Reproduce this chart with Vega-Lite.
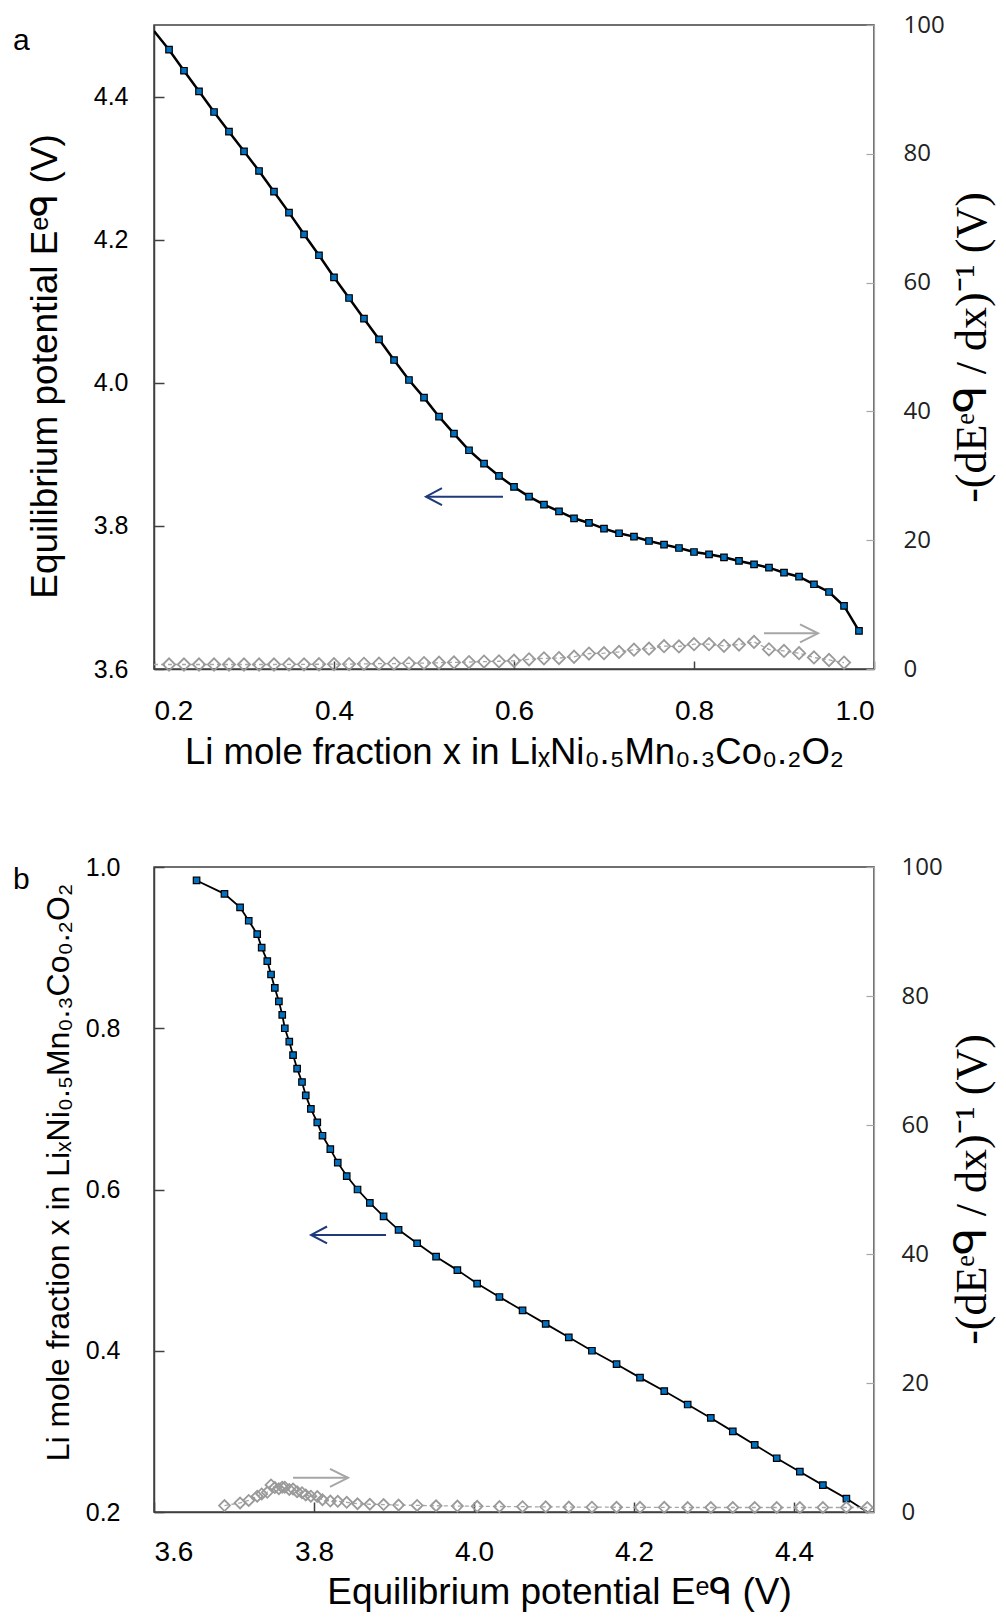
{
  "$schema": "https://vega.github.io/schema/vega-lite/v6.json",
  "padding": {"left": 12, "top": 12, "right": 4, "bottom": 4},
  "background": "white",
  "config": {
    "font": "Liberation Sans",
    "view": {"stroke": "#404040", "strokeWidth": 1.5},
    "axis": {"grid": false, "labelFont": "Liberation Sans", "labelColor": "#000000", "titleColor": "#000000", "titleFontWeight": "normal", "domainColor": "#404040", "tickColor": "#404040", "domainWidth": 1.5, "tickWidth": 1.5},
    "title": {"font": "Liberation Sans", "fontWeight": "normal", "color": "#000000"}
  },
  "datasets": {
    "eq": [
      {"k": 12, "x": 0.2, "E": 4.4916, "d": 0.7},
      {"k": 13, "x": 0.2167, "E": 4.4655, "d": 0.7},
      {"k": 14, "x": 0.2333, "E": 4.4361, "d": 0.7},
      {"k": 15, "x": 0.25, "E": 4.4073, "d": 0.7},
      {"k": 16, "x": 0.2667, "E": 4.3784, "d": 0.7},
      {"k": 17, "x": 0.2833, "E": 4.3509, "d": 0.7},
      {"k": 18, "x": 0.3, "E": 4.3235, "d": 0.7},
      {"k": 19, "x": 0.3167, "E": 4.296, "d": 0.7},
      {"k": 20, "x": 0.3333, "E": 4.2671, "d": 0.7},
      {"k": 21, "x": 0.35, "E": 4.2378, "d": 0.72},
      {"k": 22, "x": 0.3667, "E": 4.2075, "d": 0.72},
      {"k": 23, "x": 0.3833, "E": 4.1782, "d": 0.74},
      {"k": 24, "x": 0.4, "E": 4.1474, "d": 0.75},
      {"k": 25, "x": 0.4167, "E": 4.1185, "d": 0.77},
      {"k": 26, "x": 0.4333, "E": 4.0896, "d": 0.8},
      {"k": 27, "x": 0.45, "E": 4.0607, "d": 0.82},
      {"k": 28, "x": 0.4667, "E": 4.0318, "d": 0.85},
      {"k": 29, "x": 0.4833, "E": 4.0039, "d": 0.88},
      {"k": 30, "x": 0.5, "E": 3.9792, "d": 0.92},
      {"k": 31, "x": 0.5167, "E": 3.9526, "d": 0.97},
      {"k": 32, "x": 0.5333, "E": 3.9289, "d": 1.02},
      {"k": 33, "x": 0.55, "E": 3.9057, "d": 1.08},
      {"k": 34, "x": 0.5667, "E": 3.887, "d": 1.15},
      {"k": 35, "x": 0.5833, "E": 3.8698, "d": 1.2},
      {"k": 36, "x": 0.6, "E": 3.8544, "d": 1.28},
      {"k": 37, "x": 0.6167, "E": 3.8409, "d": 1.5},
      {"k": 38, "x": 0.6333, "E": 3.8297, "d": 1.66},
      {"k": 39, "x": 0.65, "E": 3.8204, "d": 1.7},
      {"k": 40, "x": 0.6667, "E": 3.8106, "d": 1.9},
      {"k": 41, "x": 0.6833, "E": 3.8041, "d": 2.4},
      {"k": 42, "x": 0.7, "E": 3.7961, "d": 2.45},
      {"k": 43, "x": 0.7167, "E": 3.7897, "d": 2.65},
      {"k": 44, "x": 0.7333, "E": 3.785, "d": 3.0},
      {"k": 45, "x": 0.75, "E": 3.7789, "d": 3.15},
      {"k": 46, "x": 0.7667, "E": 3.7738, "d": 3.55},
      {"k": 47, "x": 0.7833, "E": 3.7691, "d": 3.5},
      {"k": 48, "x": 0.8, "E": 3.7635, "d": 3.85},
      {"k": 49, "x": 0.8167, "E": 3.7603, "d": 3.85},
      {"k": 50, "x": 0.8333, "E": 3.7561, "d": 3.6},
      {"k": 51, "x": 0.85, "E": 3.751, "d": 3.8},
      {"k": 52, "x": 0.8667, "E": 3.7463, "d": 4.2},
      {"k": 53, "x": 0.8833, "E": 3.7416, "d": 3.05},
      {"k": 54, "x": 0.9, "E": 3.7346, "d": 2.8},
      {"k": 55, "x": 0.9167, "E": 3.729, "d": 2.45},
      {"k": 56, "x": 0.9333, "E": 3.7184, "d": 1.8},
      {"k": 57, "x": 0.95, "E": 3.7076, "d": 1.4},
      {"k": 58, "x": 0.9667, "E": 3.6881, "d": 1.0},
      {"k": 59, "x": 0.9833, "E": 3.6532, "d": null}
    ]
  },
  "spacing": 82,
  "vconcat": [
    {
      "width": 720,
      "height": 644,
      "title": {"text": "a", "anchor": "start", "frame": "group", "fontSize": 30, "dx": -141, "offset": -67, "baseline": "alphabetic"},
      "layer": [
        {
          "layer": [
            {
              "data": {"name": "eq"},
              "mark": {"type": "line", "color": "#000000", "strokeWidth": 2.5, "clip": true},
              "encoding": {
                "x": {"field": "x", "type": "quantitative", "scale": {"domain": [0.2, 1.0], "nice": false},
                  "axis": {"orient": "bottom", "values": [0.2, 0.4, 0.6, 0.8, 1.0], "format": ".1f", "labelFontSize": 28, "tickSize": -8, "labelPadding": 36,
                    "title": "Li mole fraction x in LiₓNi₀.₅Mn₀.₃Co₀.₂O₂", "titleFontSize": 36.5, "titlePadding": 9}},
                "y": {"field": "E", "type": "quantitative", "scale": {"domain": [3.6, 4.5], "nice": false, "zero": false},
                  "axis": {"orient": "left", "values": [3.6, 3.8, 4.0, 4.2, 4.4], "format": ".1f", "labelFontSize": 25, "tickSize": -10, "labelPadding": 36,
                    "title": "Equilibrium  potential  Eᵉᑫ (V)", "titleFontSize": 37, "titlePadding": 29, "titleY": 341}}
              }
            },
            {
              "data": {"name": "eq"},
              "transform": [{"filter": "datum.k > 12"}],
              "mark": {"type": "point", "shape": "square", "filled": true, "fill": "#0070C0", "stroke": "#000000", "strokeWidth": 1.2, "size": 42, "opacity": 1},
              "encoding": {
                "x": {"field": "x", "type": "quantitative"},
                "y": {"field": "E", "type": "quantitative"}
              }
            },
            {
              "data": {"values": [{"tip": 0.5022, "tail": 0.5878, "y": 3.8408}]},
              "layer": [
                {"mark": {"type": "rule", "color": "#1F3A7A", "strokeWidth": 2},
                 "encoding": {"x": {"field": "tip", "type": "quantitative"}, "x2": {"field": "tail"}, "y": {"field": "y", "type": "quantitative"}}},
                {"mark": {"type": "point", "shape": "M1,-0.53L0,0L1,0.53", "filled": false, "stroke": "#1F3A7A", "strokeWidth": 2, "size": 1024, "opacity": 1},
                 "encoding": {"x": {"field": "tip", "type": "quantitative"}, "y": {"field": "y", "type": "quantitative"}}}
              ]
            }
          ]
        },
        {
          "layer": [
            {
              "data": {"name": "eq"},
              "transform": [{"filter": "datum.d != null"}],
              "mark": {"type": "line", "color": "#A6A6A6", "strokeWidth": 1.3, "strokeDash": [4, 3], "clip": true},
              "encoding": {
                "x": {"field": "x", "type": "quantitative"},
                "y": {"field": "d", "type": "quantitative", "scale": {"domain": [0, 100], "nice": false},
                  "axis": {"orient": "right", "values": [0, 20, 40, 60, 80, 100], "labelFont": "Open Sans", "labelFontSize": 24, "labelColor": "#222222", "domainColor": "#A6A6A6", "tickColor": "#A6A6A6", "domainWidth": 1.2, "tickWidth": 1.2, "tickSize": -8, "labelPadding": 37,
                    "title": "-(dEᵉᑫ / dx)⁻¹   (V)", "titleFont": "Liberation Serif", "titleFontSize": 44, "titleAngle": -90, "titleBaseline": "top", "titlePadding": 6}}
              }
            },
            {
              "data": {"name": "eq"},
              "transform": [{"filter": "datum.d != null && datum.k > 12"}],
              "mark": {"type": "point", "shape": "diamond", "filled": false, "stroke": "#9A9A9A", "strokeWidth": 1.8, "size": 150, "opacity": 1},
              "encoding": {
                "x": {"field": "x", "type": "quantitative"},
                "y": {"field": "d", "type": "quantitative"}
              }
            },
            {
              "data": {"values": [{"tip": 0.9378, "tail": 0.8778, "y": 5.54}]},
              "layer": [
                {"mark": {"type": "rule", "color": "#A6A6A6", "strokeWidth": 2},
                 "encoding": {"x": {"field": "tail", "type": "quantitative"}, "x2": {"field": "tip"}, "y": {"field": "y", "type": "quantitative"}}},
                {"mark": {"type": "point", "shape": "M-1,-0.5L0,0L-1,0.5", "filled": false, "stroke": "#A6A6A6", "strokeWidth": 2, "size": 1296, "opacity": 1},
                 "encoding": {"x": {"field": "tip", "type": "quantitative"}, "y": {"field": "y", "type": "quantitative"}}}
              ]
            }
          ]
        }
      ],
      "resolve": {"scale": {"y": "independent"}}
    },
    {
      "width": 720,
      "height": 645,
      "title": {"text": "b", "anchor": "start", "frame": "group", "fontSize": 30, "dx": -141, "offset": -64, "baseline": "alphabetic"},
      "layer": [
        {
          "layer": [
            {
              "data": {"name": "eq"},
              "mark": {"type": "line", "color": "#000000", "strokeWidth": 1.8, "clip": true},
              "encoding": {
                "x": {"field": "E", "type": "quantitative", "scale": {"domain": [3.6, 4.5], "nice": false, "zero": false},
                  "axis": {"orient": "bottom", "values": [3.6, 3.8, 4.0, 4.2, 4.4], "format": ".1f", "labelFontSize": 28, "tickSize": -10, "labelPadding": 36,
                    "title": "Equilibrium  potential  Eᵉᑫ (V)", "titleFontSize": 37, "titlePadding": 8, "titleX": 405}},
                "y": {"field": "x", "type": "quantitative", "scale": {"domain": [0.2, 1.0], "nice": false},
                  "axis": {"orient": "left", "values": [0.2, 0.4, 0.6, 0.8, 1.0], "format": ".1f", "labelFontSize": 25, "tickSize": -10, "labelPadding": 44,
                    "title": "Li mole fraction x in LiₓNi₀.₅Mn₀.₃Co₀.₂O₂", "titleFontSize": 32, "titlePadding": 10, "titleY": 305}}
              },
              "order": {"field": "E"}
            },
            {
              "data": {"name": "eq"},
              "transform": [{"filter": "datum.k > 12"}],
              "mark": {"type": "point", "shape": "square", "filled": true, "fill": "#0070C0", "stroke": "#000000", "strokeWidth": 1.2, "size": 42, "opacity": 1},
              "encoding": {
                "x": {"field": "E", "type": "quantitative"},
                "y": {"field": "x", "type": "quantitative"}
              }
            },
            {
              "data": {"values": [{"tip": 3.7963, "tail": 3.89, "y": 0.5436}]},
              "layer": [
                {"mark": {"type": "rule", "color": "#1F3A7A", "strokeWidth": 2},
                 "encoding": {"x": {"field": "tip", "type": "quantitative"}, "x2": {"field": "tail"}, "y": {"field": "y", "type": "quantitative"}}},
                {"mark": {"type": "point", "shape": "M1,-0.53L0,0L1,0.53", "filled": false, "stroke": "#1F3A7A", "strokeWidth": 2, "size": 1024, "opacity": 1},
                 "encoding": {"x": {"field": "tip", "type": "quantitative"}, "y": {"field": "y", "type": "quantitative"}}}
              ]
            }
          ]
        },
        {
          "layer": [
            {
              "data": {"name": "eq"},
              "transform": [{"filter": "datum.d != null"}],
              "mark": {"type": "line", "color": "#A6A6A6", "strokeWidth": 1.3, "strokeDash": [4, 3], "clip": true},
              "encoding": {
                "x": {"field": "E", "type": "quantitative"},
                "y": {"field": "d", "type": "quantitative", "scale": {"domain": [0, 100], "nice": false},
                  "axis": {"orient": "right", "values": [0, 20, 40, 60, 80, 100], "labelFont": "Open Sans", "labelFontSize": 24, "labelColor": "#222222", "domainColor": "#A6A6A6", "tickColor": "#A6A6A6", "domainWidth": 1.2, "tickWidth": 1.2, "tickSize": -8, "labelPadding": 35,
                    "title": "-(dEᵉᑫ / dx)⁻¹   (V)", "titleFont": "Liberation Serif", "titleFontSize": 44, "titleAngle": -90, "titleBaseline": "top", "titlePadding": 8, "titleY": 322}}
              }
            },
            {
              "data": {"name": "eq"},
              "transform": [{"filter": "datum.d != null"}],
              "mark": {"type": "point", "shape": "diamond", "filled": false, "stroke": "#9A9A9A", "strokeWidth": 1.8, "size": 120, "opacity": 1},
              "encoding": {
                "x": {"field": "E", "type": "quantitative"},
                "y": {"field": "d", "type": "quantitative"}
              }
            },
            {
              "data": {"values": [{"tip": 3.8425, "tail": 3.7738, "y": 5.3}]},
              "layer": [
                {"mark": {"type": "rule", "color": "#A6A6A6", "strokeWidth": 2},
                 "encoding": {"x": {"field": "tail", "type": "quantitative"}, "x2": {"field": "tip"}, "y": {"field": "y", "type": "quantitative"}}},
                {"mark": {"type": "point", "shape": "M-1,-0.5L0,0L-1,0.5", "filled": false, "stroke": "#A6A6A6", "strokeWidth": 2, "size": 1296, "opacity": 1},
                 "encoding": {"x": {"field": "tip", "type": "quantitative"}, "y": {"field": "y", "type": "quantitative"}}}
              ]
            }
          ]
        }
      ],
      "resolve": {"scale": {"y": "independent"}}
    }
  ]
}
